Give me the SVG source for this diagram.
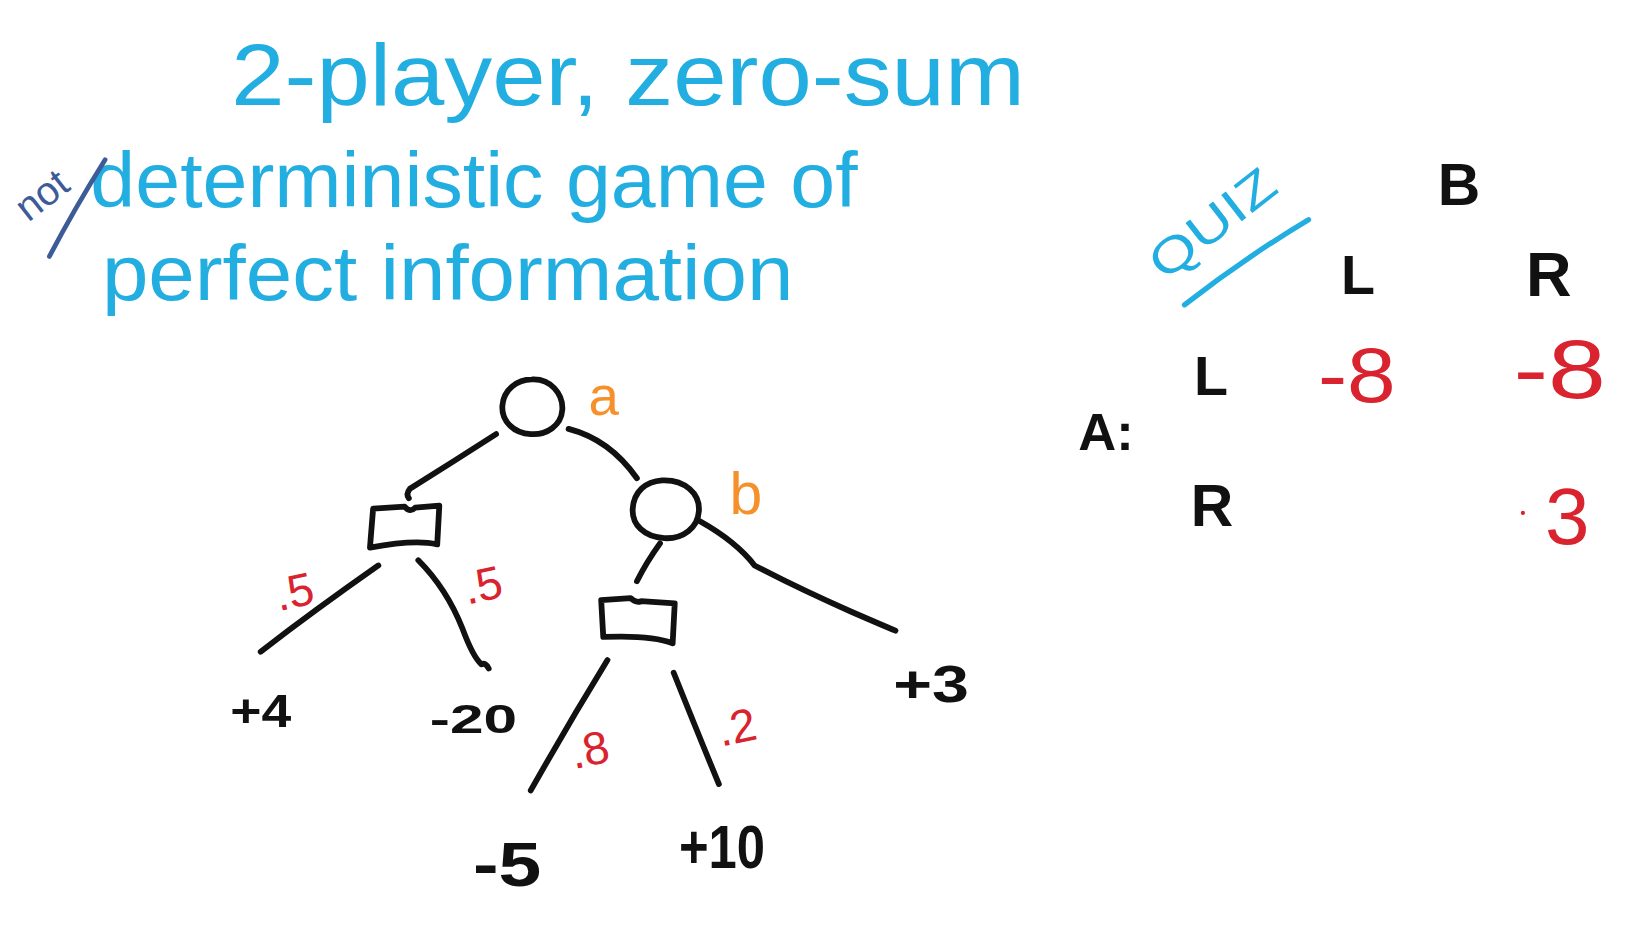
<svg xmlns="http://www.w3.org/2000/svg" width="1648" height="946" viewBox="0 0 1648 946">
<style>
.ink{stroke:#111;stroke-width:5.5;fill:none;stroke-linecap:round;stroke-linejoin:round}
.cy{fill:#22aee0;font-family:"Liberation Sans",Arial,sans-serif}
.bk{fill:#111;font-family:"Liberation Sans",Arial,sans-serif;font-weight:bold}
.rd{fill:#d9232f;font-family:"Liberation Sans",Arial,sans-serif}
.or{fill:#f5902a;font-family:"Liberation Sans",Arial,sans-serif}
</style>
<rect width="1648" height="946" fill="#ffffff"/>
<g transform="scale(1.0510,1.0511)">
  <g id="title">
    <text class="cy" x="220" y="100" font-size="82" textLength="755" lengthAdjust="spacingAndGlyphs">2-player, zero-sum</text>
    <text class="cy" x="86" y="197" font-size="74" textLength="730" lengthAdjust="spacingAndGlyphs">deterministic game of</text>
    <text class="cy" x="97" y="285" font-size="74" textLength="658" lengthAdjust="spacingAndGlyphs">perfect information</text>
    <text x="27" y="212" font-size="38" fill="#3d5b96" font-family="Liberation Sans,Arial,sans-serif" transform="rotate(-38 27 212)">not</text>
    <path d="M47 244 Q70 200 100 152" stroke="#3d5b96" stroke-width="4.5" fill="none" stroke-linecap="round"/>
  </g>
  <g id="quiz">
    <text class="cy" x="1108" y="268" font-size="46" textLength="140" lengthAdjust="spacingAndGlyphs" transform="rotate(-38 1108 268)">QUIZ</text>
    <path d="M1127 290 Q1185 245 1245 209" stroke="#22aee0" stroke-width="5" fill="none" stroke-linecap="round"/>
  </g>
  <g id="table">
    <text class="bk" x="1368" y="195" font-size="56">B</text>
    <text class="bk" x="1276" y="280" font-size="53">L</text>
    <text class="bk" x="1452" y="282" font-size="60">R</text>
    <text class="bk" x="1026" y="428" font-size="50">A:</text>
    <text class="bk" x="1136" y="376" font-size="53">L</text>
    <text class="bk" x="1133" y="500" font-size="56">R</text>
    <text class="rd" x="1254" y="382" font-size="74" textLength="74" lengthAdjust="spacingAndGlyphs">-8</text>
    <text class="rd" x="1440" y="379" font-size="80" textLength="88" lengthAdjust="spacingAndGlyphs">-8</text>
    <circle cx="1449" cy="488" r="2" fill="#d9232f"/>
    <text class="rd" x="1470" y="518" font-size="76">3</text>
  </g>
  <g id="connectors" class="ink">
    <path d="M472 413 Q430 440 390 465 Q386 470 389 474"/>
    <path d="M541 408 Q580 418 606 455"/>
    <path d="M360 538 Q300 580 248 620"/>
    <path d="M398 533 Q425 560 440 598 Q450 625 458 632 Q462 630 465 636"/>
    <path d="M628 517 Q615 535 606 553"/>
    <path d="M666 496 Q700 515 718 538 Q760 560 810 582 Q840 595 852 600"/>
    <path d="M578 628 Q540 690 505 752"/>
    <path d="M641 640 Q665 700 684 746"/>
  </g>
  <g id="node-a">
    <path class="ink" d="M506 361 C524 360 536 375 535 390 C534 405 520 414 505 413 C488 412 477 400 478 386 C479 371 492 361 506 361 Z"/>
    <text class="or" x="560" y="395" font-size="52">a</text>
  </g>
  <g id="node-b">
    <path class="ink" d="M630 457 C652 456 666 470 665 486 C664 502 650 513 632 512 C613 511 601 499 602 484 C603 468 614 458 630 457 Z"/>
    <text class="or" x="694" y="489" font-size="56">b</text>
  </g>
  <g id="chance-1">
    <path class="ink" d="M355 484 L385 482 Q390 488 395 483 L418 481 L416 518 Q395 513 352 521 Z"/>
    <text class="rd" x="261" y="578" font-size="44" transform="rotate(-12 280 560)">.5</text>
    <text class="rd" x="440" y="572" font-size="44" transform="rotate(-12 458 552)">.5</text>
  </g>
  <g id="chance-2">
    <path class="ink" d="M572 571 L600 569 Q605 574 610 572 L642 574 L640 612 Q620 604 574 606 Z"/>
    <text class="rd" x="542" y="728" font-size="44" transform="rotate(-12 562 710)">.8</text>
    <text class="rd" x="682" y="706" font-size="44" transform="rotate(-12 705 688)">.2</text>
  </g>
  <g id="leaf-p4"><text class="bk" x="219" y="692" font-size="44" textLength="58" lengthAdjust="spacingAndGlyphs">+4</text></g>
  <g id="leaf-m20"><text class="bk" x="409" y="697" font-size="38" textLength="83" lengthAdjust="spacingAndGlyphs">-20</text></g>
  <g id="leaf-p3"><text class="bk" x="850" y="668" font-size="50" textLength="72" lengthAdjust="spacingAndGlyphs">+3</text></g>
  <g id="leaf-m5"><text class="bk" x="450" y="843" font-size="60" textLength="65" lengthAdjust="spacingAndGlyphs">-5</text></g>
  <g id="leaf-p10"><text class="bk" x="646" y="826" font-size="58" textLength="82" lengthAdjust="spacingAndGlyphs">+10</text></g>
</g>
</svg>
